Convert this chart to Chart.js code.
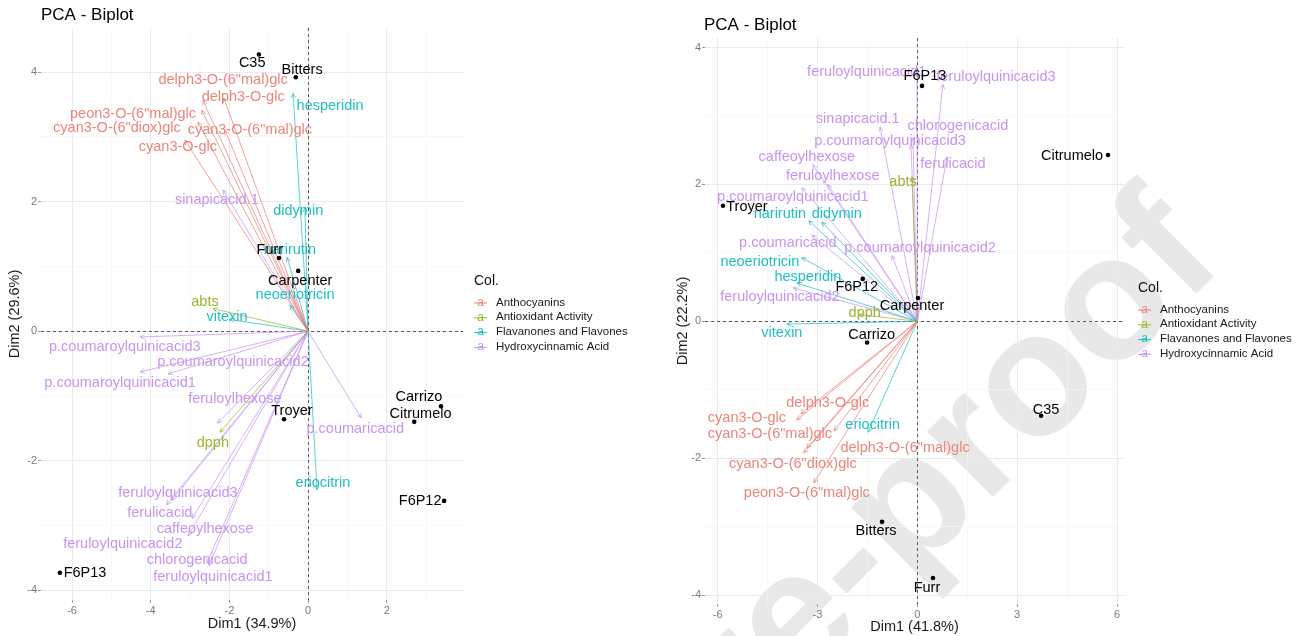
<!DOCTYPE html>
<html>
<head>
<meta charset="utf-8">
<script src="https://cdn.jsdelivr.net/npm/chart.js@4.4.1/dist/chart.umd.min.js"></script>
<style>
  html, body { margin: 0; padding: 0; background: #ffffff; }
  #wrap { position: relative; width: 1301px; height: 636px; overflow: hidden; background: #ffffff; }
  #cA { position: absolute; left: 0; top: 0; }
  #cB { position: absolute; left: 650px; top: 0; }
</style>
</head>
<body>
<div id="wrap">
  <canvas id="cA" width="650" height="636"></canvas>
  <canvas id="cB" width="651" height="636"></canvas>
</div>
<script>
// ---------------- DATA ----------------
const groupNames = ['Anthocyanins', 'Antioxidant Activity', 'Flavanones and Flavones', 'Hydroxycinnamic Acid'];

// Left biplot (Dim1 34.9%, Dim2 29.6%)
const indNamesA = ['C35', 'Bitters', 'Furr', 'Carpenter', 'Troyer', 'F6P13', 'Carrizo', 'Citrumelo', 'F6P12'];
const indXA = [-1.25, -0.31, -0.74, -0.25, -0.61, -6.31, 3.38, 2.70, 3.46];
const indYA = [4.27, 3.92, 1.13, 0.93, -1.36, -3.73, -1.16, -1.40, -2.62];

const varNamesA = [
  'delph3-O-(6"mal)glc', 'delph3-O-glc', 'peon3-O-(6"mal)glc', 'cyan3-O-(6"diox)glc', 'cyan3-O-(6"mal)glc', 'cyan3-O-glc',
  'abts', 'dpph',
  'hesperidin', 'didymin', 'narirutin', 'neoeriotricin', 'vitexin', 'eriocitrin',
  'sinapicacid.1', 'p.coumaroylquinicacid3', 'p.coumaroylquinicacid2', 'p.coumaroylquinicacid1', 'feruloylhexose',
  'p.coumaricacid', 'feruloylquinicacid3', 'ferulicacid', 'caffeoylhexose', 'feruloylquinicacid2', 'chlorogenicacid', 'feruloylquinicacid1'
];
const varGroupA = [0,0,0,0,0,0, 1,1, 2,2,2,2,2,2, 3,3,3,3,3,3,3,3,3,3,3,3];
const varXA = [-2.67, -2.14, -2.70, -2.80, -2.11, -3.13,
  -2.42, -2.24,
  -0.38, -0.08, -0.53, -0.46, -2.00, 0.23,
  -2.16, -4.27, -3.56, -4.27, -2.30, 1.35, -3.46, -2.95, -3.05, -3.60, -2.57, -2.52];
const varYA = [3.56, 3.60, 3.41, 3.23, 3.10, 2.95,
  0.35, -1.56,
  3.67, 1.91, 1.14, 0.40, 0.18, -2.45,
  2.18, -0.09, -0.66, -0.63, -1.42, -1.34, -2.61, -2.89, -3.16, -2.68, -3.58, -3.62];

// Right biplot (Dim1 41.8%, Dim2 22.2%)
const indNamesB = ['F6P13', 'Troyer', 'F6P12', 'Carpenter', 'Carrizo', 'Bitters', 'Furr', 'Citrumelo', 'C35'];
const indXB = [0.14, -5.84, -1.64, 0.02, -1.51, -1.06, 0.47, 5.73, 3.72];
const indYB = [3.44, 1.69, 0.62, 0.34, -0.31, -2.93, -3.75, 2.43, -1.38];

const varNamesB = [
  'delph3-O-(6"mal)glc', 'delph3-O-glc', 'peon3-O-(6"mal)glc', 'cyan3-O-(6"diox)glc', 'cyan3-O-(6"mal)glc', 'cyan3-O-glc',
  'abts', 'dpph',
  'narirutin', 'didymin', 'neoeriotricin', 'hesperidin', 'vitexin', 'eriocitrin',
  'feruloylquinicacid1', 'feruloylquinicacid3', 'sinapicacid.1', 'chlorogenicacid', 'p.coumaroylquinicacid3', 'caffeoylhexose',
  'ferulicacid', 'feruloylhexose', 'p.coumaroylquinicacid1', 'p.coumaricacid', 'p.coumaroylquinicacid2', 'feruloylquinicacid2'
];
const varGroupB = [0,0,0,0,0,0, 1,1, 2,2,2,2,2,2, 3,3,3,3,3,3,3,3,3,3,3,3];
const varXB = [-2.50, -3.50, -3.11, -3.41, -3.32, -3.62,
  -0.16, -1.75,
  -3.26, -2.87, -3.47, -3.62, -3.92, -1.48,
  -0.01, 0.77, -1.12, -0.13, -0.19, -3.14, 0.89, -2.69, -3.47, -3.17, -0.76, -3.74];
const varYB = [-1.60, -1.35, -2.36, -1.92, -1.85, -1.44,
  2.11, 0.10,
  1.47, 1.45, 0.93, 0.56, -0.04, -1.62,
  3.67, 3.46, 2.84, 2.68, 2.58, 2.29, 2.40, 2.00, 1.95, 1.26, 0.96, 0.49];

// ---------------- LABEL PLACEMENT (repelled label anchors, data units) ----------------
const indLabA = [[-1.42,4.14],[-0.15,4.03],[-0.97,1.25],[-0.20,0.77],[-0.41,-1.23],[-5.67,-3.73],[2.82,-1.02],[2.86,-1.28],[2.85,-2.62]];
const varLabA = [[-2.16,3.87],[-1.65,3.61],[-4.45,3.36],[-4.86,3.13],[-1.48,3.10],[-3.31,2.84],
  [-2.62,0.45],[-2.42,-1.73],
  [0.56,3.47],[-0.25,1.85],[-0.46,1.25],[-0.33,0.56],[-2.06,0.22],[0.38,-2.34],
  [-2.32,2.02],[-4.66,-0.24],[-1.91,-0.48],[-4.78,-0.80],[-1.86,-1.05],[1.20,-1.51],[-3.31,-2.50],[-3.77,-2.81],[-2.62,-3.06],[-4.71,-3.29],[-2.82,-3.53],[-2.42,-3.80]];
const indLabB = [[0.23,3.59],[-5.12,1.67],[-1.82,0.50],[-0.16,0.23],[-1.37,-0.20],[-1.24,-3.07],[0.29,-3.90],[4.65,2.42],[3.87,-1.29]];
const varLabB = [[-0.37,-1.85],[-2.69,-1.19],[-3.32,-2.51],[-3.74,-2.08],[-4.43,-1.64],[-5.12,-1.41],
  [-0.43,2.04],[-1.58,0.12],
  [-4.13,1.57],[-2.42,1.57],[-4.73,0.87],[-3.29,0.65],[-4.07,-0.17],[-1.34,-1.51],
  [-1.52,3.65],[2.36,3.57],[-1.79,2.96],[1.22,2.86],[-0.82,2.64],[-3.32,2.40],[1.07,2.30],[-2.54,2.13],[-3.74,1.81],[-3.89,1.15],[0.08,1.07],[-4.13,0.36]];

// ---------------- STYLE ----------------
const COLORS = ['#EC857B', '#9DB52A', '#1FBFC3', '#C894F0'];
const LINE_COLORS = ['rgba(236,120,110,0.85)', 'rgba(150,180,30,0.85)', 'rgba(20,185,190,0.85)', 'rgba(195,140,240,0.85)'];
const FONT = '"Liberation Sans", Arial, sans-serif';

function biplotPlugin(P) {
  return {
    id: 'biplot' + P.id,
    beforeDraw(chart) {
      if (!P.watermark) return;
      const ctx = chart.ctx;
      ctx.save();
      ctx.translate(P.watermark.x, P.watermark.y);
      ctx.rotate(P.watermark.angle * Math.PI / 180);
      ctx.font = 'bold ' + P.watermark.size + 'px ' + FONT;
      ctx.fillStyle = '#e8e8e8';
      ctx.textAlign = 'left';
      ctx.textBaseline = 'alphabetic';
      ctx.fillText(P.watermark.text, 0, 0);
      ctx.restore();
    },
    beforeDatasetsDraw(chart) {
      const {ctx, chartArea: a, scales: {x, y}} = chart;
      ctx.save();
      ctx.strokeStyle = '#333';
      ctx.lineWidth = 0.8;
      ctx.setLineDash([3, 3]);
      const px = Math.round(x.getPixelForValue(0)) + 0.5;
      const py = Math.round(y.getPixelForValue(0)) + 0.5;
      ctx.beginPath(); ctx.moveTo(px, a.top); ctx.lineTo(px, a.bottom); ctx.stroke();
      ctx.beginPath(); ctx.moveTo(a.left, py); ctx.lineTo(a.right, py); ctx.stroke();
      ctx.restore();
    },
    afterDatasetsDraw(chart) {
      const {ctx, scales: {x, y}} = chart;
      ctx.save();
      // arrow heads
      P.varX.forEach((vx, i) => {
        const ox = x.getPixelForValue(0), oy = y.getPixelForValue(0);
        const tx = x.getPixelForValue(vx), ty = y.getPixelForValue(P.varY[i]);
        const ang = Math.atan2(ty - oy, tx - ox);
        const L = 5, h = 0.45;
        ctx.strokeStyle = LINE_COLORS[P.varGroup[i]];
        ctx.lineWidth = 0.8;
        ctx.beginPath();
        ctx.moveTo(tx - L * Math.cos(ang - h), ty - L * Math.sin(ang - h));
        ctx.lineTo(tx, ty);
        ctx.lineTo(tx - L * Math.cos(ang + h), ty - L * Math.sin(ang + h));
        ctx.stroke();
      });
      // variable labels
      ctx.font = '14.5px ' + FONT;
      ctx.textAlign = 'center';
      ctx.textBaseline = 'middle';
      P.varNames.forEach((n, i) => {
        ctx.fillStyle = COLORS[P.varGroup[i]];
        ctx.fillText(n, x.getPixelForValue(P.varLab[i][0]), y.getPixelForValue(P.varLab[i][1]));
      });
      // individual labels
      ctx.fillStyle = '#000';
      P.indNames.forEach((n, i) => {
        ctx.fillText(n, x.getPixelForValue(P.indLab[i][0]), y.getPixelForValue(P.indLab[i][1]));
      });
      ctx.restore();
    },
    afterDraw(chart) {
      const {ctx, chartArea: a} = chart;
      ctx.save();
      // title
      ctx.fillStyle = '#000';
      ctx.font = '17px ' + FONT;
      ctx.textAlign = 'left';
      ctx.textBaseline = 'middle';
      ctx.fillText('PCA - Biplot', a.left + P.titleDx, a.top - 13);
      // legend
      const lx = a.right + P.legendDx;
      const cy = (a.top + a.bottom) / 2;
      ctx.font = '14px ' + FONT;
      ctx.fillStyle = '#111';
      ctx.fillText('Col.', lx, cy - 33);
      groupNames.forEach((g, k) => {
        const yy = cy - 11.5 + k * 14.8;
        ctx.strokeStyle = COLORS[k];
        ctx.lineWidth = 1;
        ctx.beginPath(); ctx.moveTo(lx, yy + 0.5); ctx.lineTo(lx + 13, yy + 0.5); ctx.stroke();
        ctx.fillStyle = COLORS[k];
        ctx.font = '12px ' + FONT;
        ctx.textAlign = 'center';
        ctx.fillText('a', lx + 6.5, yy);
        ctx.textAlign = 'left';
        ctx.fillStyle = '#1a1a1a';
        ctx.font = '11.5px ' + FONT;
        ctx.fillText(g, lx + 22, yy);
      });
      ctx.restore();
    }
  };
}

function isMult(v, m) { const r = Math.abs(v / m - Math.round(v / m)); return r < 1e-6; }

function makeChart(P) {
  const datasets = [];
  P.varNames.forEach((n, i) => {
    datasets.push({
      label: n,
      data: [{x: 0, y: 0}, {x: P.varX[i], y: P.varY[i]}],
      showLine: true,
      borderColor: LINE_COLORS[P.varGroup[i]],
      borderWidth: 0.8,
      pointRadius: 0,
      fill: false,
      order: 2
    });
  });
  datasets.push({
    label: 'individuals',
    data: P.indX.map((vx, i) => ({x: vx, y: P.indY[i]})),
    pointRadius: 2.3,
    pointBackgroundColor: '#000',
    pointBorderWidth: 0,
    showLine: false,
    order: 1
  });
  const gridOpts = (m) => ({
    color: c => (c.tick && isMult(c.tick.value, m)) ? '#eaeaea' : '#f5f5f5',
    lineWidth: c => (c.tick && isMult(c.tick.value, m)) ? 1 : 0.7,
    tickColor: c => (c.tick && isMult(c.tick.value, m)) ? '#9a9a9a' : 'rgba(0,0,0,0)',
    tickLength: 3,
    drawTicks: true
  });
  const tickFont = {family: FONT, size: 11};
  return new Chart(document.getElementById(P.canvas), {
    type: 'scatter',
    data: {datasets},
    plugins: [biplotPlugin(P)],
    options: {
      responsive: false,
      animation: false,
      events: [],
      layout: {padding: {left: 0, top: P.areaTop, right: P.padRight, bottom: 0}},
      plugins: {legend: {display: false}, tooltip: {enabled: false}},
      scales: {
        x: {
          type: 'linear', min: P.xMin, max: P.xMax,
          border: {display: false},
          grid: gridOpts(P.xMajor),
          ticks: {stepSize: P.xStep, includeBounds: false, maxTicksLimit: 100, autoSkip: false, maxRotation: 0,
                  padding: 1, color: '#7a7a7a', font: tickFont,
                  callback: v => isMult(v, P.xMajor) ? String(Math.round(v)) : ''},
          title: {display: true, text: P.xTitle, color: '#1a1a1a', font: {family: FONT, size: 14.5},
                  padding: {top: 0, bottom: P.xTitlePad}},
          afterFit: s => { s.height = P.xAxisH; }
        },
        y: {
          type: 'linear', min: P.yMin, max: P.yMax,
          border: {display: false},
          grid: gridOpts(2),
          ticks: {stepSize: 1, includeBounds: false, maxTicksLimit: 100, autoSkip: false,
                  padding: 1, color: '#7a7a7a', font: tickFont,
                  callback: v => isMult(v, 2) ? String(Math.round(v)) : ''},
          title: {display: true, text: P.yTitle, color: '#1a1a1a', font: {family: FONT, size: 14.5},
                  padding: {top: P.yTitlePad, bottom: 0}},
          afterFit: s => { s.width = P.yAxisW; }
        }
      }
    }
  });
}

makeChart({
  id: 'A', canvas: 'cA',
  indNames: indNamesA, indX: indXA, indY: indYA, indLab: indLabA,
  varNames: varNamesA, varGroup: varGroupA, varX: varXA, varY: varYA, varLab: varLabA,
  xMin: -6.79, xMax: 3.94, yMin: -4.15, yMax: 4.68, xStep: 1, xMajor: 2,
  xTitle: 'Dim1 (34.9%)', yTitle: 'Dim2 (29.6%)',
  areaTop: 28, padRight: 187, xAxisH: 36, yAxisW: 41, xTitlePad: 3, yTitlePad: 6,
  titleDx: 0, legendDx: 11, watermark: null
});

makeChart({
  id: 'B', canvas: 'cB',
  indNames: indNamesB, indX: indXB, indY: indYB, indLab: indLabB,
  varNames: varNamesB, varGroup: varGroupB, varX: varXB, varY: varYB, varLab: varLabB,
  xMin: -6.38, xMax: 6.21, yMin: -4.13, yMax: 4.14, xStep: 1.5, xMajor: 3,
  xTitle: 'Dim1 (41.8%)', yTitle: 'Dim2 (22.2%)',
  areaTop: 38, padRight: 177, xAxisH: 32, yAxisW: 55, xTitlePad: 0, yTitlePad: 24,
  titleDx: -1, legendDx: 14,
  watermark: {text: 'Journal Pre-proof', x: -468, y: 1308, angle: -45, size: 176}
});
</script>
</body>
</html>
